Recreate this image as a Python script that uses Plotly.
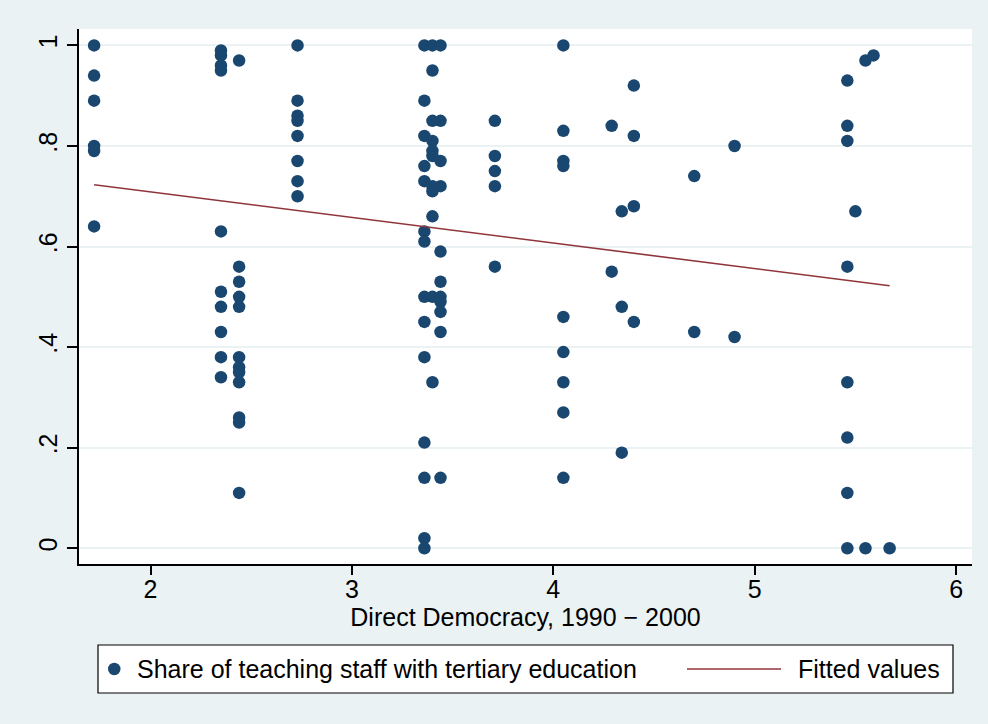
import plotly.graph_objects as go

# ==========================================
# DATA
# ==========================================

# direct democracy index, one column of points per canton group
dd_x = (
    [1.72] * 6
    + [2.35] * 10
    + [2.44] * 12
    + [2.73] * 8
    + [3.36] * 14
    + [3.40] * 11
    + [3.44] * 11
    + [3.71] * 5
    + [4.05] * 9
    + [4.29] * 2
    + [4.34] * 3
    + [4.40] * 4
    + [4.70] * 2
    + [4.90] * 2
    + [5.46] * 8
    + [5.50] * 1
    + [5.55] * 2
    + [5.59] * 1
    + [5.67] * 1
)

# share of teaching staff with tertiary education
share_y = (
    [1.00, 0.94, 0.89, 0.80, 0.79, 0.64]
    + [0.99, 0.98, 0.96, 0.95, 0.63, 0.51, 0.48, 0.43, 0.38, 0.34]
    + [0.97, 0.56, 0.53, 0.50, 0.48, 0.38, 0.36, 0.35, 0.33, 0.26, 0.25, 0.11]
    + [1.00, 0.89, 0.86, 0.85, 0.82, 0.77, 0.73, 0.70]
    + [1.00, 0.89, 0.82, 0.76, 0.73, 0.63, 0.61, 0.50, 0.45, 0.38, 0.21, 0.14, 0.02, 0.00]
    + [1.00, 0.95, 0.85, 0.81, 0.79, 0.78, 0.72, 0.71, 0.66, 0.50, 0.33]
    + [1.00, 0.85, 0.77, 0.72, 0.59, 0.53, 0.50, 0.49, 0.47, 0.43, 0.14]
    + [0.85, 0.78, 0.75, 0.72, 0.56]
    + [1.00, 0.83, 0.77, 0.76, 0.46, 0.39, 0.33, 0.27, 0.14]
    + [0.84, 0.55]
    + [0.67, 0.48, 0.19]
    + [0.92, 0.82, 0.68, 0.45]
    + [0.74, 0.43]
    + [0.80, 0.42]
    + [0.93, 0.84, 0.81, 0.56, 0.33, 0.22, 0.11, 0.00]
    + [0.67]
    + [0.97, 0.00]
    + [0.98]
    + [0.00]
)

# fitted values (linear fit endpoints)
fit_x = [1.72, 5.67]
fit_y = [0.723, 0.522]

x_ticks = [2, 3, 4, 5, 6]
y_ticks = [0, 0.2, 0.4, 0.6, 0.8, 1]
y_labels = ["0", ".2", ".4", ".6", ".8", "1"]

legend_labels = ["Share of teaching staff with tertiary education", "Fitted values"]

NAVY = "#1a476f"
MAROON = "#90353b"
BG = "#eaf2f3"
FONT = "Liberation Sans, Arial, sans-serif"

# figure / plot area geometry in pixels
W, H = 988, 724
L, R, T, B = 79, 16, 29, 160
PW, PH = W - L - R, H - T - B


def px(xp):
    # pixel x -> paper x
    return (xp - L) / PW


def py(yp):
    # pixel y (from top) -> paper y
    return (H - B - yp) / PH


fig = go.Figure()

fig.add_trace(go.Scatter(
    x=dd_x,
    y=share_y,
    mode="markers",
    name=legend_labels[0],
    marker=dict(color=NAVY, size=12.5, line=dict(width=0)),
))

fig.add_trace(go.Scatter(
    x=fit_x,
    y=fit_y,
    mode="lines",
    name=legend_labels[1],
    line=dict(color=MAROON, width=1.6),
))

# ==========================================
# LEGEND BOX (Stata style, drawn by hand)
# ==========================================

shapes = [
    dict(type="rect", xref="paper", yref="paper",
         x0=px(98), x1=px(953), y0=py(693), y1=py(645),
         fillcolor="white", line=dict(color="black", width=1.2)),
    dict(type="circle", xref="paper", yref="paper",
         x0=px(108), x1=px(120.5), y0=py(675.2), y1=py(662.8),
         fillcolor=NAVY, line=dict(width=0)),
    dict(type="line", xref="paper", yref="paper",
         x0=px(687), x1=px(781), y0=py(669), y1=py(669),
         line=dict(color=MAROON, width=1.6)),
]

annotations = [
    dict(text=legend_labels[0], xref="paper", yref="paper",
         x=px(135), y=py(669), xanchor="left", yanchor="middle",
         showarrow=False, font=dict(size=25, color="black")),
    dict(text=legend_labels[1], xref="paper", yref="paper",
         x=px(796), y=py(669), xanchor="left", yanchor="middle",
         showarrow=False, font=dict(size=25, color="black")),
]

fig.update_layout(
    width=W,
    height=H,
    margin=dict(l=L, r=R, t=T, b=B),
    paper_bgcolor=BG,
    plot_bgcolor="white",
    font=dict(family=FONT, size=25, color="black"),
    showlegend=False,
    shapes=shapes,
    annotations=annotations,
    xaxis=dict(
        range=[1.645, 6.079],
        tickvals=x_ticks,
        ticks="outside",
        ticklen=9,
        tickwidth=1.5,
        tickcolor="black",
        tickfont=dict(size=25),
        ticklabelstandoff=-7,
        showline=True,
        linecolor="black",
        linewidth=1.5,
        showgrid=False,
        zeroline=False,
        automargin=False,
        title=dict(text="Direct Democracy, 1990 \u2212 2000",
                   font=dict(size=25), standoff=0),
    ),
    yaxis=dict(
        range=[-0.0314, 1.0326],
        tickvals=y_ticks,
        ticktext=y_labels,
        tickangle=-90,
        ticks="outside",
        ticklen=10,
        tickwidth=1.5,
        tickcolor="black",
        tickfont=dict(size=25),
        showline=True,
        linecolor="black",
        linewidth=1.5,
        showgrid=True,
        gridcolor=BG,
        gridwidth=2,
        zeroline=False,
        automargin=False,
    ),
)

# drop the browser's default page margin so the figure fills the window
fig.write_html(
    "out.html",
    config={"displayModeBar": False},
    post_script="document.body.style.margin = '0';",
)
